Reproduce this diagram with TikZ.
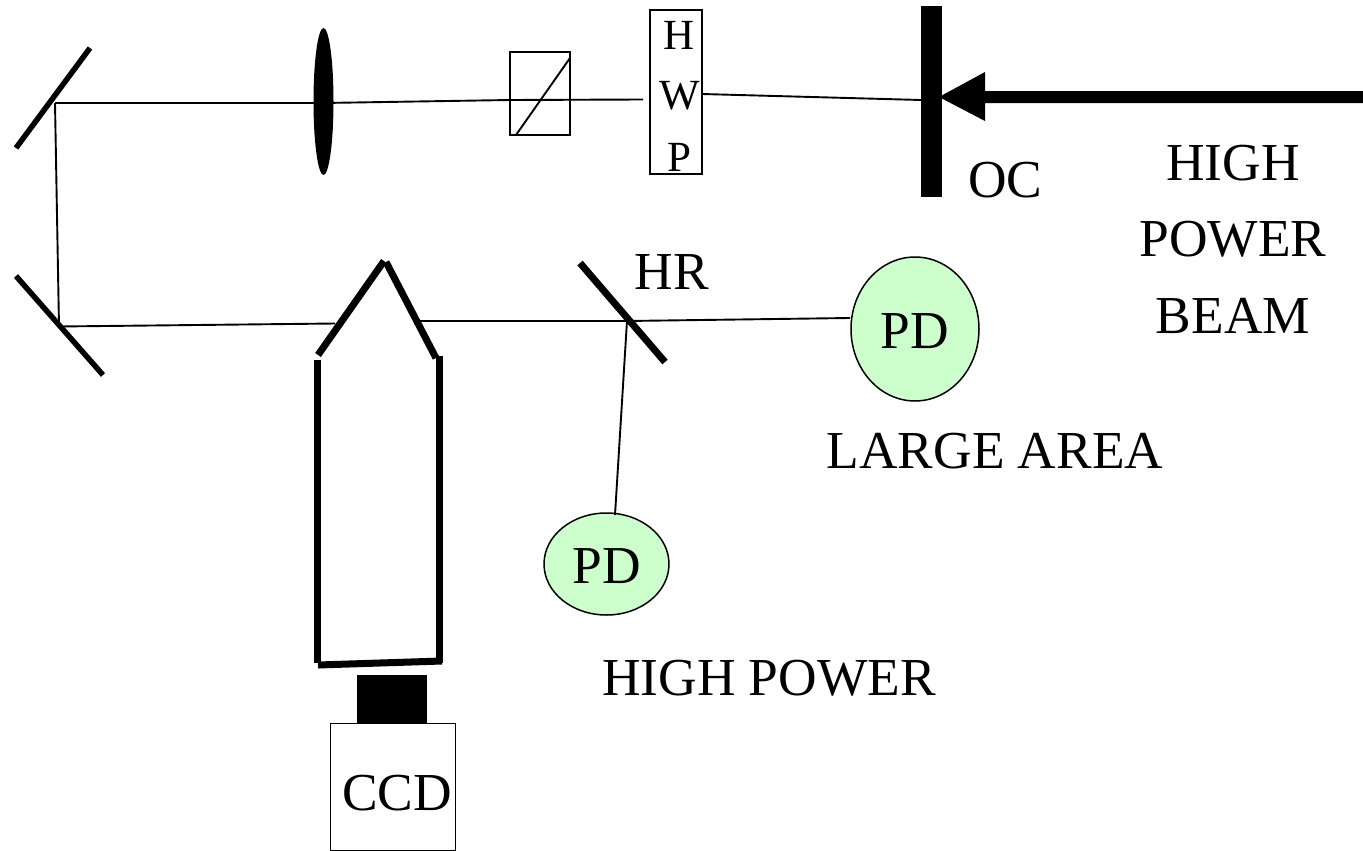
\documentclass[tikz,border=0pt]{standalone}
\usepackage{fontspec}
\setmainfont{Liberation Serif}
\usetikzlibrary{shapes.geometric}
\definecolor{pdgreen}{HTML}{CCFFCC}
\tikzset{
 beam/.style={draw=black,line width=1.9pt},
 thin box/.style={draw=black,line width=1.9pt,fill=white,inner sep=0pt,outer sep=0pt,anchor=north west},
 mirror/.style={draw=black,line width=5.5pt},
 hr mirror/.style={draw=black,line width=7pt},
 wall/.style={draw=black,line width=7pt},
 solid box/.style={fill=black,inner sep=0pt,outer sep=0pt,anchor=north west},
 pd/.style={draw=black,line width=1.5pt,fill=pdgreen,ellipse,inner sep=0pt,outer sep=0pt},
 big/.style={font=\fontsize{53.4}{54}\selectfont,inner sep=0pt},
 small/.style={font=\fontsize{43}{43}\selectfont,inner sep=0pt},
}
\begin{document}
\begin{tikzpicture}[x=1pt,y=-1pt]
\useasboundingbox (0,0) rectangle (1363,851);
% beam waypoints
\coordinate (m1) at (55,103);
\coordinate (m2) at (59,326.5);
\coordinate (hr) at (627,321);
\coordinate (objL) at (335,323.5);
\coordinate (objR) at (420,321);
\coordinate (lensL) at (323,103);
\coordinate (hwpIn) at (643,99.5);
\coordinate (oc) at (921,100);
\coordinate (cubeIn) at (510,100);
\coordinate (pdAin) at (850,318);
\coordinate (hwpOut) at (702,94);
\coordinate (pdBin) at (615,515);
% components
\node[pd,minimum width=128pt,minimum height=144pt] (pdA) at (915,329) {};
\node[pd,minimum width=125pt,minimum height=102pt] (pdB) at (606.5,564) {};
\node[thin box,minimum width=60pt,minimum height=83pt] (cube) at (510,52) {};
\node[thin box,minimum width=52pt,minimum height=164pt] (hwp) at (650,10) {};
\node[thin box,minimum width=125pt,minimum height=127pt] (ccd) at (330.5,723.5) {};
\node[fill=black,ellipse,minimum width=20pt,minimum height=147pt,inner sep=0pt] (lens) at (323.5,101.5) {};
\node[solid box,minimum width=21pt,minimum height=191pt] (ocbar) at (921,6) {};
\node[solid box,minimum width=70pt,minimum height=49pt] (ccdmount) at (357,675) {};
% beams
\draw[beam] (m1) -- (lensL);
\draw[beam] (lensL) -- (cubeIn) -- (hwpIn);
\draw[beam] (hwpOut) -- (oc);
\draw[beam] (m1) -- (m2);
\draw[beam] (m2) -- (objL);
\draw[beam] (objR) -- (hr);
\draw[beam] (hr) -- (pdAin);
\draw[beam] (hr) -- (pdBin);
% cube diagonal
\draw[beam] (516,135) -- (570,58);
% mirrors
\draw[mirror] (16,148) -- (90,48);
\draw[mirror] (16,276) -- (103,375);
\draw[hr mirror] (580,263) -- (665,362);
% objective
\draw[wall] (317.5,360) -- (317.5,663);
\draw[wall] (439,356) -- (439,663);
\draw[wall] (318,665) -- (442,661);
\draw[wall] (318,355) -- (384,261);
\draw[wall] (386,262) -- (436,358);
% input arrow
\coordinate (tip) at (939,97);
\fill[black] (1363,91) -- (985,91) -- (985,72) -- (tip) -- (985,121) -- (985,103) -- (1363,103) -- cycle;
% labels
\node[small] (lH) at (679.5,35) {H};
\node[small] (lW) at (679.5,96) {W};
\node[small] (lP) at (679.5,157) {P};
\node[big] (lOC) at (1005.5,180) {OC};
\node[big] (l1) at (1233,163) {HIGH};
\node[big] (l2) at (1233,239) {POWER};
\node[big] (l3) at (1233,316) {BEAM};
\node[big] (lHR) at (672,272) {HR};
\node[big] at (915,331) {PD};
\node[big] at (606.5,566) {PD};
\node[big] (lLA) at (995,451) {LARGE AREA};
\node[big] (lHP) at (769,678) {HIGH POWER};
\node[big] (lCCD) at (397,793) {CCD};
\end{tikzpicture}
\end{document}
